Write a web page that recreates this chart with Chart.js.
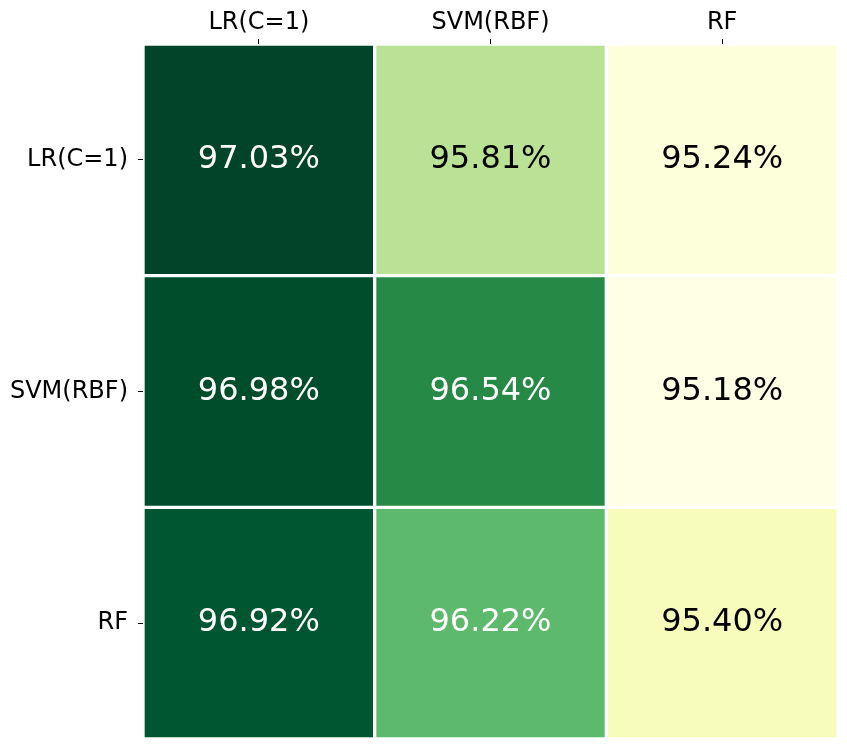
<!DOCTYPE html>
<html>
<head>
<meta charset="utf-8">
<script src="https://cdn.jsdelivr.net/npm/chart.js@4/dist/chart.umd.min.js"></script>
<style>
  html, body { margin: 0; padding: 0; background: #fff; }
  canvas { display: block; }
</style>
</head>
<body>
<canvas id="heatmap" width="847" height="748"></canvas>
<script>
const colLabels = ["LR(C=1)", "SVM(RBF)", "RF"];
const rowLabels = ["LR(C=1)", "SVM(RBF)", "RF"];
// accuracy per row (row model vs column model), in %
const rowLR = [97.03, 95.81, 95.24];
const rowSVM = [96.98, 96.54, 95.18];
const rowRF = [96.92, 96.22, 95.40];
const rows = [rowLR, rowSVM, rowRF];

// YlGn colour map stops
const ylgn = ["#ffffe5", "#f7fcb9", "#d9f0a3", "#addd8e", "#78c679", "#41ab5d", "#238443", "#006837", "#004529"];

const allVals = rows.flat();
const vmin = Math.min(...allVals);
const vmax = Math.max(...allVals);

function hexToRgb(h) {
  return [parseInt(h.slice(1, 3), 16), parseInt(h.slice(3, 5), 16), parseInt(h.slice(5, 7), 16)];
}

function cmap(v) {
  const t = Math.max(0, Math.min(1, (v - vmin) / (vmax - vmin)));
  const pos = t * (ylgn.length - 1);
  const i = Math.min(Math.floor(pos), ylgn.length - 2);
  const f = pos - i;
  const a = hexToRgb(ylgn[i]), b = hexToRgb(ylgn[i + 1]);
  const c = a.map((x, k) => Math.round(x + (b[k] - x) * f));
  return `rgb(${c[0]}, ${c[1]}, ${c[2]})`;
}

function textColor(v) {
  return (v - vmin) / (vmax - vmin) > 0.5 ? "#ffffff" : "#000000";
}

Chart.defaults.font.family = "'DejaVu Sans', sans-serif";
Chart.defaults.color = "#000";

// draw the percentage inside every cell
const cellText = {
  id: "cellText",
  afterDatasetsDraw(chart) {
    const ctx = chart.ctx;
    ctx.save();
    ctx.font = "32px 'DejaVu Sans'";
    ctx.textAlign = "center";
    ctx.textBaseline = "middle";
    chart.data.datasets.forEach((ds, r) => {
      chart.getDatasetMeta(r).data.forEach((bar, c) => {
        const v = rows[r][c];
        ctx.fillStyle = textColor(v);
        ctx.fillText(v.toFixed(2) + "%", bar.x, (bar.y + bar.base) / 2);
      });
    });
    ctx.restore();
  }
};

const datasets = rows.map((vals, r) => ({
  label: rowLabels[r],
  data: vals.map(() => [r, r + 1]),
  backgroundColor: vals.map(cmap),
  borderColor: "#ffffff",
  borderWidth: 2,
  borderSkipped: false,
  grouped: false,
  barPercentage: 1,
  categoryPercentage: 1
}));

new Chart(document.getElementById("heatmap"), {
  type: "bar",
  data: { labels: colLabels, datasets: datasets },
  options: {
    responsive: false,
    animation: false,
    devicePixelRatio: 1,
    layout: { padding: { right: 9, bottom: 9, top: 0, left: 0 } },
    plugins: { legend: { display: false }, tooltip: { enabled: false } },
    scales: {
      x: {
        position: "top",
        grid: { offset: false, drawOnChartArea: false, drawTicks: true, tickLength: 5, color: "#000" },
        border: { display: false },
        ticks: { font: { size: 24 }, padding: 2, color: "#000" },
        afterFit(scale) {
          scale.height = 44;
          scale.paddingLeft = 0;
          scale.paddingRight = 0;
        }
      },
      y: {
        type: "linear",
        min: 0,
        max: 3,
        reverse: true,
        afterBuildTicks(scale) {
          scale.ticks = [{ value: 0.5 }, { value: 1.5 }, { value: 2.5 }];
        },
        grid: { drawOnChartArea: false, drawTicks: true, tickLength: 5, color: "#000" },
        border: { display: false },
        ticks: {
          font: { size: 24 },
          padding: 10,
          color: "#000",
          callback: (v) => rowLabels[Math.floor(v)]
        },
        afterFit(scale) {
          scale.width = 143;
          scale.paddingTop = 0;
          scale.paddingBottom = 0;
        }
      }
    }
  },
  plugins: [cellText]
});
</script>
</body>
</html>
